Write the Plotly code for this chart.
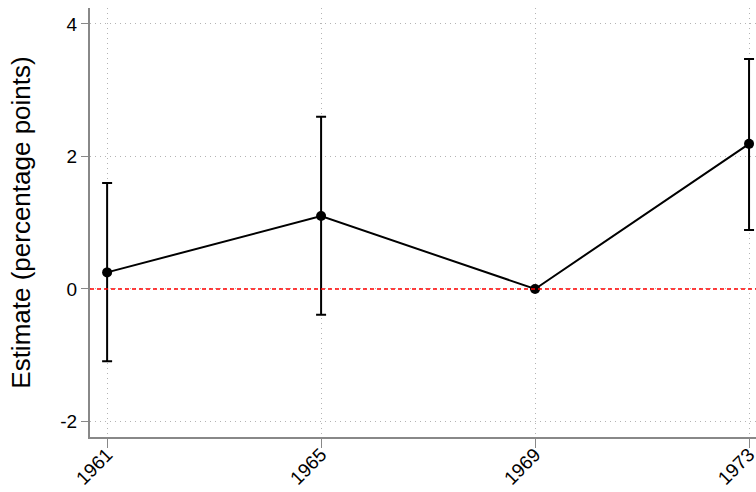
import plotly.graph_objects as go

years = [1961, 1965, 1969, 1973]
estimate = [0.25, 1.10, 0.0, 2.19]
ci_low = [-1.09, -0.39, 0.0, 0.89]
ci_high = [1.60, 2.60, 0.0, 3.47]
y_ticks = [-2, 0, 2, 4]
y_tick_text = ["-2", "0", "2", "4"]

err_plus = [h - e for h, e in zip(ci_high, estimate)]
err_minus = [e - l for e, l in zip(estimate, ci_low)]

fig = go.Figure()

# zero reference line
fig.add_shape(type="line", xref="paper", x0=0, x1=1, yref="y", y0=0, y1=0,
              line=dict(color="red", width=1.5, dash="4px,3px"), layer="above")

fig.add_trace(go.Scatter(
    x=years, y=estimate, mode="lines+markers",
    line=dict(color="black", width=2),
    marker=dict(color="black", size=10),
    error_y=dict(type="data", symmetric=False, array=err_plus, arrayminus=err_minus,
                 color="black", thickness=2, width=5),
    showlegend=False,
))

grid = dict(showgrid=True, gridcolor="#b4b4b4", griddash="1px,4px", gridwidth=1)

fig.update_layout(
    width=756, height=492,
    margin=dict(l=90, r=0, t=8, b=55),
    paper_bgcolor="white", plot_bgcolor="white",
    font=dict(family="Liberation Sans, Arial, sans-serif", color="black"),
    xaxis=dict(range=[1960.68, 1973.13], tickvals=years, ticktext=[str(y) for y in years],
               tickangle=-45, ticks="outside", ticklen=9, tickcolor="#888888",
               showline=True, linecolor="#888888", linewidth=2,
               tickfont=dict(size=19), ticklabeloverflow="allow", ticklabelstandoff=-12,
               zeroline=False, automargin=False, **grid),
    yaxis=dict(range=[-2.234, 4.24], tickvals=y_ticks, ticktext=y_tick_text,
               ticks="outside", ticklen=7,
               tickcolor="#888888", showline=True, linecolor="#888888", linewidth=2,
               tickfont=dict(size=19), zeroline=False, automargin=False,
               title=dict(text="Estimate (percentage points)", font=dict(size=26), standoff=22),
               **grid),
)

fig.write_html("out.html")
